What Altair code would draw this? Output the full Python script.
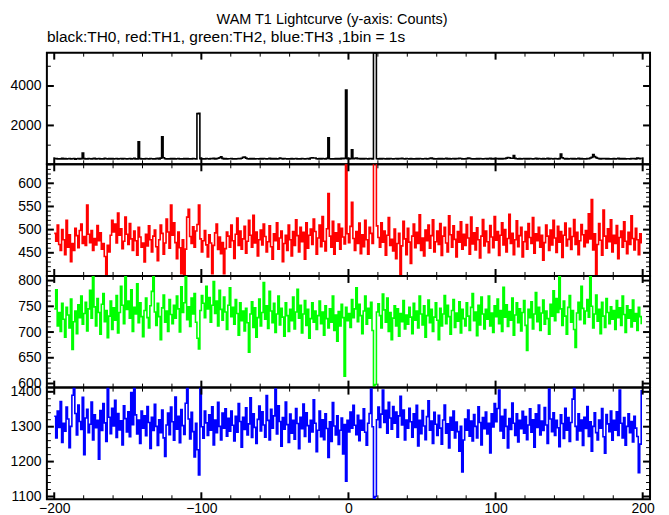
import altair as alt
import pandas as pd

# time bins (1 s), x = -200 ... 199
t = list(range(-200, 200))

# TH0 (black)
th0 = [
    310, 322, 298, 315, 305, 330, 301, 318, 296, 312, 325, 303, 308, 319, 294, 311, 327, 300, 316, 605,
    320, 305, 298, 326, 310, 302, 317, 331, 299, 308, 321, 296, 314, 305, 329, 311, 300, 318, 306, 322,
    297, 313, 325, 304, 309, 318, 300, 327, 311, 296, 315, 322, 303, 310, 328, 306, 299, 1170, 317, 305,
    312, 296, 320, 308, 301, 326, 314, 298, 307, 319, 330, 302, 345, 1425, 360, 315, 298, 311, 303, 322,
    306, 317, 295, 310, 324, 301, 312, 298, 319, 307, 326, 300, 313, 304, 321, 309, 296, 2600, 2620, 318,
    304, 315, 299, 322, 308, 297, 316, 311, 330, 303, 318, 340, 365, 410, 330, 305, 321, 299, 312, 308,
    320, 301, 314, 297, 309, 326, 318, 340, 385, 400, 345, 312, 303, 319, 306, 324, 300, 315, 309, 298,
    317, 305, 322, 310, 296, 313, 328, 301, 316, 307, 320, 298, 311, 345, 325, 303, 318, 309, 296, 314,
    306, 321, 300, 312, 327, 304, 315, 298, 319, 308, 296, 313, 325, 300, 350, 355, 352, 348, 310, 298,
    316, 303, 320, 308, 297, 330, 1375, 315, 302, 311, 298, 324, 307, 318, 301, 340, 312, 330, 3800, 320,
    305, 318, 770, 312, 330, 345, 310, 325, 300, 316, 306, 322, 309, 298, 316, 327, 303, 5680, 5700, 312,
    300, 318, 307, 325, 311, 298, 316, 304, 322, 309, 297, 313, 326, 302, 318, 308, 335, 315, 299, 320,
    310, 303, 321, 298, 314, 306, 327, 300, 317, 309, 295, 312, 324, 301, 315, 330, 345, 318, 304, 311,
    298, 322, 307, 316, 301, 313, 328, 305, 319, 297, 310, 323, 302, 316, 308, 336, 322, 300, 315, 306,
    320, 348, 330, 311, 298, 314, 305, 327, 300, 318, 309, 296, 313, 324, 302, 316, 330, 306, 319, 298,
    312, 325, 303, 317, 300, 321, 308, 345, 372, 360, 340, 335, 470, 330, 315, 302, 319, 306, 311, 325,
    299, 316, 304, 322, 310, 297, 313, 328, 301, 317, 308, 295, 320, 306, 315, 330, 303, 318, 309, 300,
    324, 311, 298, 316, 555, 360, 322, 307, 319, 301, 314, 326, 303, 317, 300, 312, 328, 306, 318, 297,
    315, 304, 322, 310, 350, 380, 520, 420, 370, 333, 318, 302, 326, 309, 316, 300, 321, 307, 313, 298,
    319, 305, 312, 328, 301, 316, 307, 322, 299, 314, 310, 303, 325, 308, 317, 300, 345, 330, 318, 306,
]

# TH1 (red)
th1 = [
    492, 475, 510, 468, 455, 500, 478, 446, 520, 462, 489, 431, 470, 455, 503, 487, 461, 498, 512, 470,
    485, 466, 553, 490, 472, 498, 455, 481, 467, 509, 476, 493, 458, 470, 442, 404, 466, 452, 488, 520,
    495, 512, 471, 536, 488, 502, 459, 475, 527, 490, 468, 513, 480, 455, 497, 476, 445, 505, 484, 462,
    471, 430, 490, 465, 508, 478, 452, 486, 499, 463, 433, 478, 510, 492, 447, 471, 523, 495, 460, 553,
    488, 515, 472, 437, 495, 461, 405, 478, 400, 458, 527, 544, 485, 470, 506, 462, 497, 511, 553, 480,
    452, 476, 498, 467, 441, 489, 471, 405, 466, 493, 512, 457, 484, 448, 472, 405, 459, 495, 486, 462,
    510, 476, 438, 490, 525, 466, 497, 458, 480, 507, 449, 475, 520, 488, 462, 531, 471, 495, 443, 478,
    499, 467, 512, 485, 452, 474, 508, 463, 436, 491, 476, 515, 458, 482, 497, 431, 470, 488, 455, 510,
    478, 443, 496, 466, 521, 487, 452, 505, 474, 494, 436, 515, 460, 488, 501, 468, 523, 496, 447, 482,
    510, 463, 528, 475, 454, 502, 578, 486, 462, 518, 447, 493, 475, 512, 458, 503, 484, 469, 665, 491,
    472, 507, 559, 481, 455, 496, 470, 514, 448, 489, 463, 520, 478, 447, 505, 492, 470, 665, 660, 508,
    483, 462, 515, 473, 497, 445, 488, 526, 466, 479, 454, 501, 437, 470, 492, 400, 465, 518, 480, 446,
    503, 473, 427, 486, 512, 461, 494, 470, 532, 455, 482, 443, 499, 476, 510, 460, 487, 521, 452, 474,
    497, 468, 513, 444, 486, 505, 471, 452, 530, 489, 462, 508, 479, 441, 496, 473, 517, 458, 490, 466,
    511, 482, 447, 527, 469, 493, 456, 504, 478, 439, 486, 522, 465, 497, 474, 450, 509, 484, 461, 528,
    477, 496, 444, 488, 515, 467, 500, 452, 481, 533, 470, 492, 446, 478, 519, 463, 487, 505, 441, 474,
    496, 458, 513, 483, 470, 526, 449, 491, 476, 505, 462, 488, 434, 472, 510, 486, 455, 499, 467, 520,
    482, 451, 507, 473, 496, 440, 488, 514, 465, 479, 503, 457, 485, 522, 468, 494, 446, 476, 511, 489,
    463, 498, 472, 534, 480, 565, 456, 491, 402, 468, 513, 477, 445, 542, 486, 460, 502, 474, 521, 452,
    488, 470, 509, 437, 483, 497, 462, 517, 475, 448, 494, 468, 530, 481, 456, 503, 478, 446, 491, 470,
]

# TH2 (green)
th2 = [
    745, 782, 712, 738, 701, 756, 725, 690, 748, 733, 708, 764, 666, 720, 741, 697, 753, 728, 770, 715,
    736, 758, 702, 745, 781, 727, 808, 749, 712, 765, 738, 696, 754, 775, 720, 742, 689, 731, 760, 705,
    747, 723, 771, 698, 738, 789, 752, 716, 808, 744, 760, 727, 782, 701, 748, 735, 794, 718, 757, 730,
    691, 742, 766, 728, 708, 751, 779, 808, 739, 713, 756, 730, 685, 747, 772, 719, 741, 701, 763, 734,
    716, 752, 727, 770, 745, 700, 788, 738, 757, 808, 724, 749, 711, 766, 735, 775, 719, 688, 667, 742,
    771, 756, 728, 789, 745, 767, 719, 752, 798, 736, 760, 712, 781, 744, 723, 768, 739, 705, 752, 786,
    730, 748, 715, 763, 736, 694, 757, 722, 741, 702, 746, 718, 661, 735, 759, 709, 747, 690, 728, 764,
    712, 738, 796, 725, 751, 707, 779, 741, 718, 756, 699, 735, 770, 714, 746, 729, 692, 757, 732, 701,
    744, 722, 768, 706, 739, 783, 727, 752, 698, 735, 761, 713, 744, 688, 726, 757, 719, 741, 705, 732,
    760, 716, 739, 694, 751, 726, 708, 745, 719, 770, 703, 733, 682, 740, 712, 754, 728, 614, 748, 722,
    736, 709, 763, 728, 745, 786, 720, 754, 732, 697, 741, 770, 715, 746, 727, 758, 703, 593, 598, 739,
    755, 732, 708, 774, 743, 719, 766, 701, 738, 685, 727, 751, 712, 745, 692, 736, 720, 761, 706, 733,
    715, 748, 729, 697, 756, 723, 741, 708, 770, 735, 714, 751, 690, 732, 762, 718, 744, 701, 729, 757,
    723, 685, 746, 712, 735, 771, 716, 752, 730, 696, 742, 763, 709, 737, 721, 759, 698, 744, 726, 712,
    757, 731, 703, 748, 775, 722, 739, 693, 752, 714, 768, 735, 706, 744, 725, 770, 712, 737, 699, 751,
    730, 764, 716, 742, 701, 787, 729, 753, 711, 740, 723, 766, 694, 733, 757, 718, 745, 702, 738, 761,
    713, 664, 744, 728, 759, 706, 735, 777, 720, 748, 703, 737, 762, 715, 741, 726, 696, 754, 731, 780,
    722, 765, 738, 808, 745, 713, 760, 731, 696, 748, 771, 719, 742, 705, 670, 737, 758, 724, 789, 746,
    716, 741, 763, 729, 808, 750, 708, 735, 772, 721, 744, 697, 758, 731, 709, 765, 738, 716, 749, 725,
    742, 705, 761, 728, 747, 713, 770, 734, 699, 751, 727, 743, 710, 762, 721, 736, 703, 748, 730, 715,
]

# TH3 (blue)
th3 = [
    1330, 1268, 1345, 1298, 1372, 1255, 1310, 1287, 1356, 1322, 1240, 1301, 1390, 1410, 1338, 1276, 1362, 1315, 1292, 1384,
    1220, 1325, 1350, 1283, 1307, 1371, 1262, 1334, 1297, 1318, 1207, 1346, 1289, 1366, 1311, 1258, 1410, 1327, 1280, 1353,
    1302, 1376, 1269, 1338, 1291, 1317, 1248, 1360, 1323, 1285, 1343, 1271, 1398, 1306, 1410, 1334, 1279, 1319, 1252, 1345,
    1296, 1331, 1274, 1358, 1312, 1238, 1327, 1289, 1364, 1301, 1246, 1320, 1283, 1348, 1268, 1215, 1305, 1339, 1277, 1356,
    1314, 1261, 1385, 1293, 1330, 1254, 1349, 1303, 1278, 1367, 1410, 1322, 1265, 1341, 1286, 1213, 1310, 1234, 1162, 1410,
    1300, 1267, 1345, 1311, 1275, 1334, 1290, 1357, 1248, 1319, 1283, 1370, 1301, 1262, 1339, 1296, 1351, 1273, 1324, 1287,
    1345, 1304, 1259, 1330, 1284, 1366, 1315, 1241, 1327, 1292, 1354, 1276, 1308, 1383, 1269, 1337, 1298, 1252, 1321, 1359,
    1288, 1343, 1305, 1270, 1389, 1318, 1262, 1350, 1296, 1331, 1408, 1279, 1360, 1315, 1244, 1326, 1293, 1371, 1306, 1255,
    1336, 1281, 1318, 1264, 1352, 1309, 1237, 1327, 1294, 1365, 1272, 1340, 1303, 1256, 1318, 1285, 1377, 1310, 1228, 1290,
    1345, 1271, 1320, 1263, 1337, 1295, 1212, 1314, 1258, 1369, 1302, 1276, 1331, 1249, 1290, 1325, 1222, 1306, 1144, 1318,
    1285, 1342, 1296, 1361, 1304, 1277, 1333, 1260, 1318, 1290, 1351, 1284, 1247, 1310, 1338, 1408, 1300, 1095, 1100, 1320,
    1356, 1298, 1336, 1405, 1312, 1347, 1281, 1370, 1325, 1293, 1358, 1310, 1342, 1270, 1331, 1387, 1305, 1348, 1262, 1319,
    1296, 1353, 1314, 1270, 1337, 1298, 1361, 1245, 1318, 1280, 1346, 1302, 1263, 1329, 1374, 1290, 1316, 1252, 1341, 1307,
    1275, 1333, 1296, 1250, 1319, 1362, 1281, 1308, 1239, 1327, 1290, 1345, 1268, 1313, 1286, 1230, 1301, 1170, 1262, 1322,
    1290, 1348, 1273, 1316, 1259, 1335, 1301, 1268, 1357, 1312, 1248, 1326, 1294, 1342, 1279, 1310, 1225, 1337, 1299, 1366,
    1314, 1352, 1405, 1288, 1330, 1267, 1349, 1301, 1239, 1323, 1292, 1368, 1310, 1275, 1337, 1256, 1318, 1294, 1344, 1281,
    1329, 1263, 1305, 1351, 1284, 1320, 1241, 1337, 1298, 1362, 1276, 1316, 1289, 1355, 1305, 1252, 1408, 1322, 1286, 1340,
    1275, 1318, 1297, 1243, 1334, 1309, 1266, 1353, 1290, 1326, 1258, 1312, 1379, 1410, 1301, 1262, 1337, 1288, 1319, 1246,
    1327, 1295, 1358, 1272, 1314, 1230, 1301, 1340, 1283, 1262, 1319, 1296, 1352, 1271, 1224, 1335, 1308, 1286, 1345, 1261,
    1318, 1290, 1343, 1275, 1405, 1310, 1268, 1326, 1247, 1301, 1337, 1283, 1315, 1256, 1330, 1296, 1272, 1168, 1250, 1405,
]

# axis ticks
x_major = [-200, -100, 0, 100, 200]
x_minor = [-180, -160, -140, -120, -80, -60, -40, -20, 20, 40, 60, 80, 120, 140, 160, 180]

th0_major = [2000, 4000]
th0_minor = [1000, 3000, 5000]
th1_major = [450, 500, 550, 600]
th1_minor = [410, 420, 430, 440, 460, 470, 480, 490, 510, 520, 530, 540, 560, 570, 580, 590, 610, 620, 630, 640]
th2_major = [600, 650, 700, 750, 800]
th2_minor = [610, 620, 630, 640, 660, 670, 680, 690, 710, 720, 730, 740, 760, 770, 780, 790]
th3_major = [1100, 1200, 1300, 1400]
th3_minor = [1120, 1140, 1160, 1180, 1220, 1240, 1260, 1280, 1320, 1340, 1360, 1380, 1400]

title = "WAM T1 Lightcurve (y-axis: Counts)"
subtitle = "black:TH0, red:TH1, green:TH2, blue:TH3 ,1bin = 1s"

W, H = 605, 112
FONT = "Liberation Sans"


def panel(vals, color, dom, ymaj, ymin, bottom, ptitle=None):
    df = pd.DataFrame({"t": t, "v": vals})
    xs = alt.Scale(domain=[-205, 205], nice=False, zero=False)
    ys = alt.Scale(domain=dom, nice=False, zero=False)
    if bottom:
        xaxis = alt.Axis(values=x_major, format="d", labelPadding=2, labelFlush=False,
                         labelOverlap=False, ticks=False, domain=False, grid=False,
                         labelFont=FONT, labelFontSize=14, labelColor="black")
    else:
        xaxis = None
    yaxis = alt.Axis(values=ymaj, format="d", labelPadding=6, labelFlush=False,
                     labelOverlap=False, ticks=False, domain=False, grid=False,
                     labelFont=FONT, labelFontSize=14, labelColor="black")
    X = alt.X("t:Q", scale=xs, axis=xaxis, title=None)
    Y = alt.Y("v:Q", scale=ys, axis=yaxis, title=None)

    line = alt.Chart(df).mark_line(
        interpolate="step-after", color=color, strokeWidth=1.6, clip=True
    ).encode(x=X, y=Y)

    layers = [line]
    for vals_, ln, sw in ((ymaj, 7, 2), (ymin, 4, 1)):
        d = pd.DataFrame({"v": vals_})
        layers.append(alt.Chart(d).mark_rule(color="black", strokeWidth=sw)
                      .encode(y=Y, x=alt.value(0), x2=alt.value(ln)))
        layers.append(alt.Chart(d).mark_rule(color="black", strokeWidth=sw)
                      .encode(y=Y, x=alt.value(W - ln), x2=alt.value(W)))
    for vals_, ln, sw in ((x_major, 7, 2), (x_minor, 4, 1)):
        d = pd.DataFrame({"t": vals_})
        layers.append(alt.Chart(d).mark_rule(color="black", strokeWidth=sw)
                      .encode(x=X, y=alt.value(0), y2=alt.value(ln)))
        layers.append(alt.Chart(d).mark_rule(color="black", strokeWidth=sw)
                      .encode(x=X, y=alt.value(H - ln), y2=alt.value(H)))
    props = dict(width=W, height=H)
    if ptitle:
        props["title"] = alt.TitleParams(ptitle, anchor="start", fontSize=15.5, font=FONT,
                                         fontWeight="normal", offset=6, frame="group",
                                         color="black")
    return alt.layer(*layers).properties(**props)


p0 = panel(th0, "black", [30, 5690], th0_major, th0_minor, False, subtitle)
p1 = panel(th1, "#ff0000", [400, 641], th1_major, th1_minor, False)
p2 = panel(th2, "#00ff00", [592, 809], th2_major, th2_minor, False)
p3 = panel(th3, "#0000ff", [1092, 1412], th3_major, th3_minor, True)

chart = alt.vconcat(p0, p1, p2, p3, spacing=0, bounds="flush").properties(
    title=alt.TitleParams(title, anchor="middle", fontSize=14.5, font=FONT,
                          fontWeight="normal", offset=2, color="black"),
    padding={"left": 0, "top": 3, "right": 5, "bottom": 0},
    background="white",
).configure_view(
    stroke="black", strokeWidth=2
)

chart.save("out.html", embed_options={"renderer": "svg", "actions": False})
